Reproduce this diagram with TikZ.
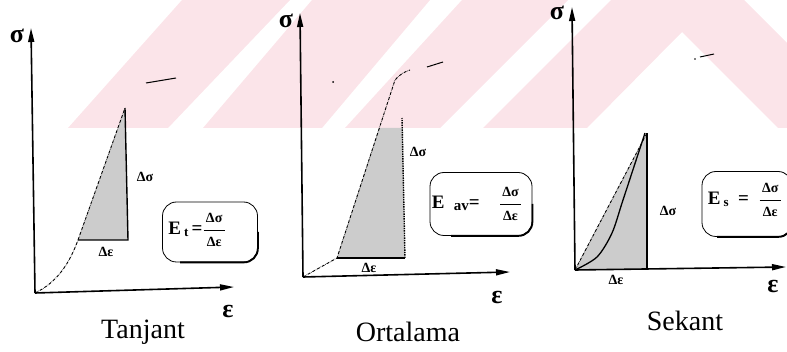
\documentclass[tikz,border=0pt]{standalone}
\usepackage{fontspec}
\setmainfont{Liberation Serif}
\usetikzlibrary{arrows.meta}
\definecolor{wmark}{RGB}{251,228,233}
\newcommand{\modfrac}[2]{$\displaystyle\frac{\hbox{\fontsize{14}{14}\selectfont\bfseries\,#1\,}}{\hbox{\fontsize{14}{14}\selectfont\bfseries\,#2\,}}$}

\begin{document}
\begin{tikzpicture}[x=1pt,y=-1pt,
  axisarrow/.style={line width=1.6pt,-{Triangle[length=14pt,width=6pt]}},
  curveline/.style={densely dash dot,line width=0.9pt},
  shade/.style={fill=black!20},
  sideline/.style={line width=1.4pt},
  dlabel/.style={font=\fontsize{14}{14}\selectfont\bfseries},
  axlabel/.style={font=\fontsize{26}{26}\selectfont\bfseries},
  plotname/.style={font=\fontsize{28}{28}\selectfont},
  modbox/.style={draw,line width=0.8pt,rounded corners=14pt,inner sep=0pt},
  modtext/.style={anchor=west,inner sep=0pt,font=\fontsize{19}{19}\selectfont\bfseries}]
\useasboundingbox (0,0) rectangle (787,352);
% watermark in the top band
\fill[wmark] (68,128) -- (168,128) -- (290,0) -- (182,0) -- cycle;
\fill[wmark] (203,128) -- (322,128) -- (430,0) -- (312,0) -- cycle;
\fill[wmark] (345,128) -- (440,128) -- (568,0) -- (462,0) -- cycle;
\fill[wmark] (483,128) -- (587,128) -- (682,32) -- (778,128) -- (787,128) -- (787,43) -- (744,0) -- (611,0) -- cycle;

% Tanjant
\coordinate (o1) at (35,293);
\coordinate (y1) at (31,28);
\coordinate (x1) at (234,287);
\coordinate (a1) at (78,240);
\coordinate (b1) at (128,240);
\coordinate (c1) at (125,108);
\fill[shade] (a1) -- (b1) -- (c1) -- cycle;
\draw[curveline] (o1) .. controls (58,282) and (70,262) .. (a1) -- (c1);
\draw[line width=1pt] (146,83) -- (176,78);
\draw[sideline] (a1) -- (b1) -- (c1);
\draw[axisarrow] (o1) -- (y1);
\draw[axisarrow] (o1) -- (x1);
\node[axlabel] (s1) at (17,36) {σ};
\node[axlabel] (e1) at (228,312) {ε};
\node[dlabel] (ds1) at (145,177) {Δσ};
\node[dlabel] (de1) at (106,252) {Δε};
\node[plotname] (n1) at (143,332) {Tanjant};
\node[modbox,minimum width=95pt,minimum height=60pt] (box1) at (210,232) {};
\draw[line width=1.8pt,rounded corners=14pt] ([xshift=-30pt]box1.south) -- (box1.south east) -- (box1.east);
\node[modtext] (f1) at ([xshift=6pt,yshift=2pt]box1.west) {E\,\raisebox{-2pt}{\fontsize{13}{13}\selectfont t}\,=\modfrac{Δσ}{Δε}};

% Ortalama
\coordinate (o2) at (303,277);
\coordinate (y2) at (300,13);
\coordinate (x2) at (510,272);
\coordinate (a2) at (337,258);
\coordinate (b2) at (405,258);
\coordinate (c2) at (402,118);
\fill[shade] (a2) -- (b2) -- (403,128) -- (379,128) -- cycle;
\draw[curveline] (o2) -- (a2) -- (395,80) .. controls (399,75) and (404,72) .. (410,70);
\draw[line width=1pt] (427,67) -- (443,62);
\fill (333,82) circle (1pt);
\draw[sideline] (a2) -- (b2);
\draw[sideline,densely dotted] (b2) -- (c2);
\draw[axisarrow] (o2) -- (y2);
\draw[axisarrow] (o2) -- (x2);
\node[axlabel] (s2) at (286,21) {σ};
\node[axlabel] (e2) at (497,298) {ε};
\node[dlabel] (ds2) at (418,152) {Δσ};
\node[dlabel] (de2) at (369,268) {Δε};
\node[plotname] (n2) at (408,332) {Ortalama};
\node[modbox,minimum width=102pt,minimum height=63pt] (box2) at (481,204) {};
\draw[line width=1.8pt,rounded corners=14pt] ([xshift=-30pt]box2.south) -- (box2.south east) -- (box2.east);
\node[modtext] (f2) at ([xshift=2pt]box2.west) {E\enspace\raisebox{-2pt}{\fontsize{15}{15}\selectfont av}=\quad\modfrac{Δσ}{Δε}};

% Sekant
\coordinate (o3) at (575,270);
\coordinate (y3) at (572,7);
\coordinate (x3) at (786,267);
\coordinate (b3) at (647,270);
\coordinate (c3) at (647,133);
\fill[shade] (o3) -- (b3) -- (c3) -- cycle;
\draw[curveline] (o3) -- (c3);
\draw[line width=1.3pt] plot[smooth] coordinates {(o3) (597,257) (612,233) (623,200) (645,133)};
\draw[line width=1pt] (700,57) -- (714,54);
\fill (695,59) circle (0.8pt);
\draw[sideline] (b3) -- (c3);
\draw[axisarrow] (o3) -- (y3);
\draw[axisarrow] (o3) -- (x3);
\node[axlabel] (s3) at (557,13) {σ};
\node[axlabel] (e3) at (773,287) {ε};
\node[dlabel] (ds3) at (668,211) {Δσ};
\node[dlabel] (de3) at (616,280) {Δε};
\node[plotname] (n3) at (685,321) {Sekant};
\node[modbox,minimum width=90pt,minimum height=65pt] (box3) at (747,204) {};
\draw[line width=1.8pt,rounded corners=14pt] ([xshift=-30pt]box3.south) -- (box3.south east) -- (box3.east);
\node[modtext] (f3) at ([xshift=6pt,yshift=4pt]box3.west) {E\,\raisebox{-2pt}{\fontsize{13}{13}\selectfont s}\enspace=\enspace\modfrac{Δσ}{Δε}};
\end{tikzpicture}
\end{document}
